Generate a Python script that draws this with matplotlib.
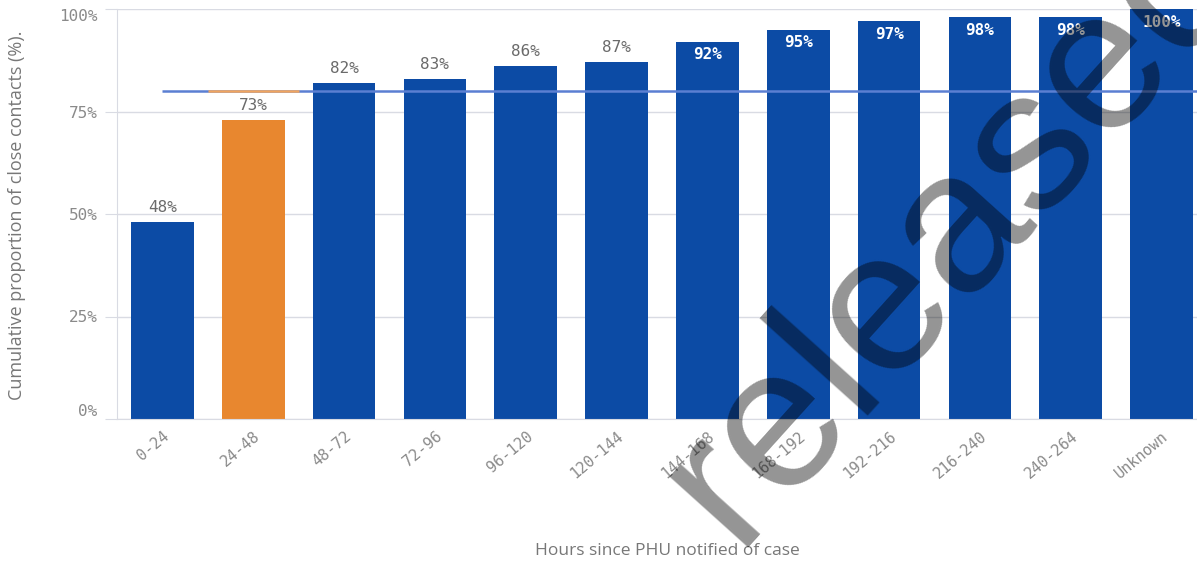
import matplotlib
matplotlib.use('Agg')
import matplotlib.pyplot as plt

# data
categories = ['0-24', '24-48', '48-72', '72-96', '96-120', '120-144',
              '144-168', '168-192', '192-216', '216-240', '240-264', 'Unknown']
values = [48, 73, 82, 83, 86, 87, 92, 95, 97, 98, 98, 100]
highlight = '24-48'
target = 80
y_ticks = [0, 25, 50, 75, 100]

BLUE = '#0c4ba5'
ORANGE = '#e8872f'
GRID = '#d9dbe3'
GREY = '#8a8a8a'

fig = plt.figure(figsize=(11.97, 5.68), dpi=100)
# axes run a bit past the right edge, like the cropped original
ax = fig.add_axes([117 / 1197, 1 - 419 / 568, 1090 / 1197, 410 / 568])

x = list(range(len(categories)))
colors = [ORANGE if c == highlight else BLUE for c in categories]
ax.bar(x, values, width=0.69, color=colors, zorder=2)

# target line, orange over the highlighted bar
ax.hlines(target, 0, len(categories) - 0.5, color='#5b7fd2', lw=1.8, zorder=3)
hi = categories.index(highlight)
ax.hlines(target, hi - 0.5, hi + 0.5, color='#f0a560', lw=1.8, zorder=4)

# value labels: above the short bars, inside the tall ones
for i, v in enumerate(values):
    if v < 90:
        ax.annotate(f'{v}%', (i, v), xytext=(0, 5), textcoords='offset points',
                    ha='center', va='bottom', fontsize=11.5, color='#6a6a6a',
                    family='DejaVu Sans Mono', zorder=5)
    else:
        ax.annotate(f'{v}%', (i, v), xytext=(0, -4), textcoords='offset points',
                    ha='center', va='top', fontsize=11.5, color='white',
                    fontweight='bold', family='DejaVu Sans Mono', zorder=5)

ax.set_xlim(-0.5, len(categories) - 0.5)
ax.set_ylim(0, 100)
ax.set_yticks(y_ticks)
ax.set_yticklabels([f'{t}%' for t in y_ticks], family='DejaVu Sans Mono',
                   fontsize=11.5, color=GREY)
ax.get_yticklabels()[0].set_va('bottom')
ax.get_yticklabels()[-1].set_va('top')
ax.tick_params(axis='y', length=9, color=GRID, pad=5)

ax.set_xticks(x)
ax.set_xticklabels(categories, rotation=40, ha='right', va='top',
                   rotation_mode='anchor', family='DejaVu Sans Mono',
                   fontsize=11, color=GREY)
ax.tick_params(axis='x', length=0, pad=7)

ax.grid(axis='y', color=GRID, lw=1, zorder=0)
for s in ['top', 'right']:
    ax.spines[s].set_visible(False)
for s in ['left', 'bottom']:
    ax.spines[s].set_color(GRID)

fig.text(17 / 1197, 1 - 215 / 568, 'Cumulative proportion of close contacts (%).',
         rotation=90, ha='center', va='center', fontsize=13, color='#777777',
         family='Open Sans')
fig.text(667 / 1197, 1 - 551 / 568, 'Hours since PHU notified of case',
         ha='center', va='center', fontsize=12.5, color='#777777', family='Open Sans')

# scanned watermark
fig.text(735 / 1197, 1 - 548 / 568, 'released', rotation=48, rotation_mode='anchor',
         ha='left', va='baseline', fontsize=145, color='black', alpha=0.42,
         family='Liberation Sans', zorder=10)

fig.savefig('out.png', dpi=100)
